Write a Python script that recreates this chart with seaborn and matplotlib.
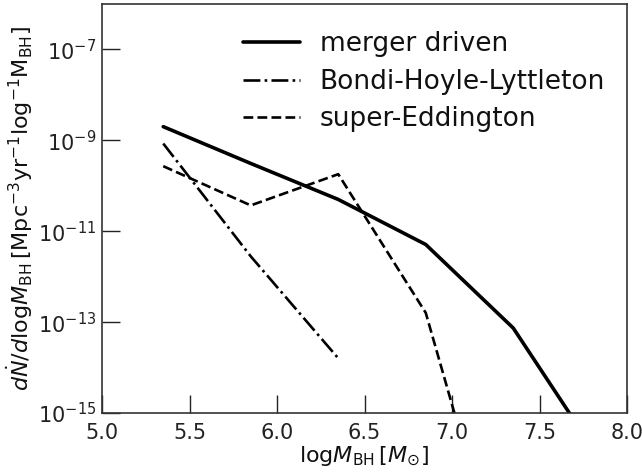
import numpy as np
import pandas as pd
import matplotlib
matplotlib.use("Agg")
import matplotlib.pyplot as plt
import seaborn as sns

# data (log M_BH bin centres and rates)
log_mbh = [5.35, 5.85, 6.35, 6.85, 7.35, 7.85]
merger = [2.0e-9, 3.1e-10, 5.0e-11, 5.1e-12, 7.4e-14, 9.0e-17]
bondi_x = [5.35, 5.85, 6.35]
bondi = [8.5e-10, 2.8e-12, 1.6e-14]
edd_x = [5.35, 5.85, 6.35, 6.85, 7.35]
edd = [2.7e-10, 3.7e-11, 1.8e-10, 1.6e-13, 3.0e-20]

labels = ["merger driven", "Bondi-Hoyle-Lyttleton", "super-Eddington"]
yticks = [1e-7, 1e-9, 1e-11, 1e-13, 1e-15]
xticks = [5.0, 5.5, 6.0, 6.5, 7.0, 7.5, 8.0]

sns.set_style("ticks")
plt.rcParams['font.family'] = ['DejaVu Sans']
plt.rcParams['mathtext.fontset'] = 'dejavusans'
plt.rcParams['text.color'] = '#111111'
plt.rcParams['axes.labelcolor'] = '#111111'
plt.rcParams['xtick.color'] = '#222222'
plt.rcParams['ytick.color'] = '#222222'

fig = plt.figure(figsize=(6.42, 4.76), dpi=100)
ax = fig.add_axes([102/642, 63/476, 525/642, 409/476])

df_m = pd.DataFrame({"x": log_mbh, "y": merger})
df_b = pd.DataFrame({"x": bondi_x, "y": bondi})
df_e = pd.DataFrame({"x": edd_x, "y": edd})

sns.lineplot(data=df_m, x="x", y="y", ax=ax, color="black", lw=2.6, label=labels[0])
sns.lineplot(data=df_b, x="x", y="y", ax=ax, color="black", lw=1.9, label=labels[1])
sns.lineplot(data=df_e, x="x", y="y", ax=ax, color="black", lw=1.9, label=labels[2])
lines = ax.get_lines()
lines[1].set_linestyle("-.")
lines[2].set_linestyle("--")

ax.set_yscale("log")
ax.set_xlim(5.0, 8.0)
ax.set_ylim(1e-15, 1e-6)
ax.set_xticks(xticks)
ax.set_yticks(yticks)
ax.yaxis.set_minor_locator(matplotlib.ticker.NullLocator())
ax.tick_params(axis="both", which="major", direction="in", length=13, width=1,
               labelsize=15, top=False, right=False, pad=4)
ax.tick_params(axis="x", pad=7)
for s in ax.spines.values():
    s.set_linewidth(1.2)
    s.set_color("#333333")

ax.set_xlabel(r"${\rm log}M_{\rm BH}\,[M_{\odot}]$", fontsize=16, labelpad=1)
ax.set_ylabel(r"$d\dot{N}/d{\rm log}M_{\rm BH}\,[{\rm Mpc^{-3}yr^{-1}log^{-1}M_{BH}}]$",
              fontsize=16, labelpad=2)

leg = ax.legend(loc="upper left", bbox_to_anchor=((243 - 102) / 525, 0.933),
                frameon=False, borderpad=0, borderaxespad=0,
                fontsize=19, handlelength=2.15, labelspacing=0.43, handletextpad=0.75)

fig.savefig("out.png", dpi=100)
